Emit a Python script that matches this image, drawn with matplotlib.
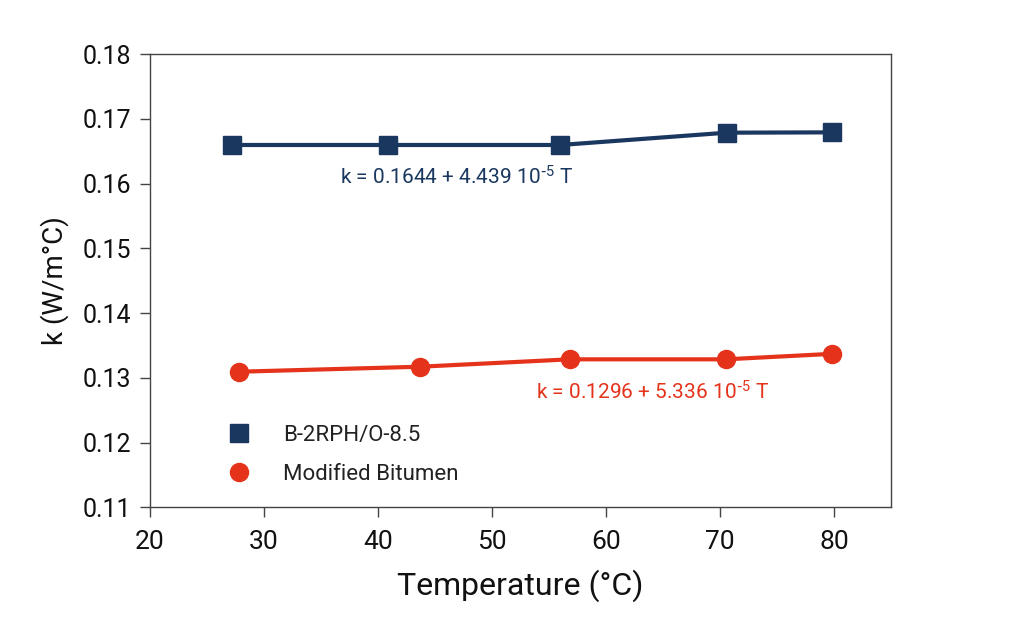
import matplotlib.pyplot as plt

plt.rcParams['font.family'] = ['Roboto', 'DejaVu Sans']
plt.rcParams['mathtext.default'] = 'regular'

# data
temp_b = [27.2, 40.9, 56.0, 70.6, 79.85]
k_b = [0.16595, 0.16595, 0.16595, 0.16785, 0.1679]
temp_m = [27.85, 43.7, 56.8, 70.5, 79.85]
k_m = [0.13094, 0.13171, 0.13285, 0.13285, 0.1337]

label_b = 'B-2RPH/O-8.5'
label_m = 'Modified Bitumen'
eq_b = r'k = 0.1644 + 4.439 10$^{\text{-}5}$ T'
eq_m = r'k = 0.1296 + 5.336 10$^{\text{-}5}$ T'

blue = '#1a375f'
red = '#e5331b'
ink = '#111111'

fig = plt.figure(figsize=(10.24, 6.42), dpi=100)
ax = fig.add_axes([150 / 1024, 1 - 507.3 / 642, 741 / 1024, 453.3 / 642])

ax.plot(temp_b, k_b, color=blue, lw=3, marker='s', ms=13, label=label_b)
ax.plot(temp_m, k_m, color=red, lw=3, marker='o', ms=13, label=label_m)

ax.text(36.65, 0.1599, eq_b, color=blue, fontsize=15, va='baseline')
ax.text(53.9, 0.12667, eq_m, color=red, fontsize=15, va='baseline')

ax.set_xlim(20, 85)
ax.set_ylim(0.11, 0.18)
ax.set_xticks([20, 30, 40, 50, 60, 70, 80])
ax.set_yticks([0.11, 0.12, 0.13, 0.14, 0.15, 0.16, 0.17, 0.18])
ax.set_yticklabels(['0.11', '0.12', '0.13', '0.14', '0.15', '0.16', '0.17', '0.18'])
ax.tick_params(axis='both', length=7.5, width=1, color='#444444', labelcolor=ink)
ax.tick_params(axis='y', labelsize=18, pad=6)
ax.tick_params(axis='x', labelsize=19, pad=9)
for s in ax.spines.values():
    s.set_color('#444444')
    s.set_linewidth(1)

ax.set_xlabel('Temperature (°C)', fontsize=23, color=ink, labelpad=11)
ax.set_ylabel('k (W/m°C)', fontsize=20, color=ink, labelpad=10)

leg = ax.legend(loc='upper left', bbox_to_anchor=(0.105, 0.182), frameon=False,
                fontsize=16, handlelength=1.0, handletextpad=1.5, labelspacing=0.8,
                borderpad=0, borderaxespad=0, numpoints=1, labelcolor='#222222')
for h in leg.legend_handles:
    h.set_linestyle('none')

fig.savefig('out.png', dpi=100)
